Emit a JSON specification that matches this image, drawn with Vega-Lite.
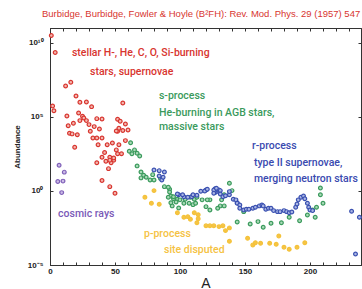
{
  "$schema": "https://vega.github.io/schema/vega-lite/v6.json",
  "width": 311,
  "height": 237,
  "autosize": "none",
  "padding": {"left": 50, "top": 28, "right": 1, "bottom": 24},
  "background": "white",
  "title": {"text": "Burbidge, Burbidge, Fowler & Hoyle (B²FH): Rev. Mod. Phys. 29 (1957) 547", "anchor": "start", "frame": "group", "font": "Liberation Sans", "fontSize": 9.5, "fontWeight": "normal", "color": "#d8352f", "offset": 9, "dx": -8},
  "config": {
    "view": {"stroke": "#333", "strokeWidth": 1},
    "axis": {"grid": false, "domainColor": "#333", "tickColor": "#333", "labelFont": "Liberation Sans", "labelFontSize": 8, "labelFontWeight": "bold", "labelColor": "#222", "titleFont": "Liberation Sans", "titleColor": "#222"}
  },
  "datasets": {
    "pts": [
      {"A":1,"Y":3.1e10,"g":"r"},{"A":4,"Y":2.2e9,"g":"r"},{"A":2,"Y":5.5e5,"g":"r"},{"A":3,"Y":2.6e5,"g":"r"},
      {"A":12,"Y":1.2e7,"g":"r"},{"A":16,"Y":2.2e7,"g":"r"},{"A":20,"Y":2.6e6,"g":"r"},{"A":23,"Y":9.8e5,"g":"r"},
      {"A":28,"Y":1.0e6,"g":"r"},{"A":32,"Y":4.9e5,"g":"r"},{"A":13,"Y":1.15e5,"g":"r"},{"A":22,"Y":1.85e5,"g":"r"},
      {"A":25,"Y":1.1e5,"g":"r"},{"A":26,"Y":8.5e4,"g":"r"},{"A":36,"Y":7.6e4,"g":"r"},{"A":40,"Y":7.2e4,"g":"r"},
      {"A":56,"Y":8.7e5,"g":"r"},{"A":52,"Y":6.9e4,"g":"r"},{"A":14,"Y":2.5e4,"g":"r"},{"A":18,"Y":3.7e4,"g":"r"},
      {"A":23,"Y":5.6e4,"g":"r"},{"A":28,"Y":5.6e4,"g":"r"},{"A":30,"Y":3.0e4,"g":"r"},{"A":34,"Y":2.2e4,"g":"r"},
      {"A":54,"Y":5.1e4,"g":"r"},{"A":58,"Y":3.3e4,"g":"r"},{"A":15,"Y":7.9e3,"g":"r"},{"A":17,"Y":7.1e3,"g":"r"},
      {"A":21,"Y":6.3e3,"g":"r"},{"A":31,"Y":1.07e4,"g":"r"},{"A":38,"Y":1.5e4,"g":"r"},{"A":52,"Y":1.07e4,"g":"r"},
      {"A":56,"Y":1.2e4,"g":"r"},{"A":60,"Y":1.3e4,"g":"r"},{"A":33,"Y":3.8e3,"g":"r"},{"A":36,"Y":3.8e3,"g":"r"},
      {"A":40,"Y":3.8e3,"g":"r"},{"A":58,"Y":2.5e3,"g":"r"},{"A":19,"Y":890,"g":"r"},{"A":37,"Y":1.3e3,"g":"r"},
      {"A":44,"Y":1.3e3,"g":"r"},{"A":48,"Y":1.7e3,"g":"r"},{"A":53,"Y":1.3e3,"g":"r"},{"A":51,"Y":590,"g":"r"},
      {"A":42,"Y":390,"g":"r"},{"A":40,"Y":190,"g":"r"},{"A":46,"Y":190,"g":"r"},{"A":49,"Y":120,"g":"r"},
      {"A":52,"Y":320,"g":"r"},{"A":55,"Y":320,"g":"r"},{"A":43,"Y":100,"g":"r"},{"A":47,"Y":81,"g":"r"},
      {"A":36,"Y":81,"g":"r"},{"A":45,"Y":32,"g":"r"},{"A":40,"Y":5.0,"g":"r"},{"A":46,"Y":1.95,"g":"r"},
      {"A":50,"Y":0.7,"g":"r"},{"A":53,"Y":1.7e4,"g":"r"},{"A":51,"Y":1.1e4,"g":"r"},{"A":49,"Y":170,"g":"r"},
      {"A":46,"Y":120,"g":"r"},
      {"A":62,"Y":1.8e3,"g":"s"},{"A":65,"Y":590,"g":"s"},{"A":61,"Y":480,"g":"s"},{"A":67,"Y":350,"g":"s"},
      {"A":69,"Y":230,"g":"s"},{"A":67,"Y":49,"g":"s"},{"A":70,"Y":19,"g":"s"},{"A":72,"Y":11.5,"g":"s"},
      {"A":70,"Y":7.6,"g":"s"},{"A":74,"Y":8.4,"g":"s"},{"A":77,"Y":5.5,"g":"s"},{"A":80,"Y":5.5,"g":"s"},
      {"A":79,"Y":12.6,"g":"s"},{"A":85,"Y":6.8,"g":"s"},{"A":88,"Y":1.95,"g":"s"},{"A":92,"Y":1.3,"g":"s"},
      {"A":93,"Y":0.46,"g":"s"},{"A":91,"Y":0.38,"g":"s"},{"A":95,"Y":0.30,"g":"s"},{"A":98,"Y":0.275,"g":"s"},
      {"A":97,"Y":0.18,"g":"s"},{"A":100,"Y":0.25,"g":"s"},{"A":104,"Y":0.275,"g":"s"},{"A":108,"Y":0.38,"g":"s"},
      {"A":111,"Y":0.275,"g":"s"},{"A":113,"Y":0.38,"g":"s"},{"A":94,"Y":0.098,"g":"s"},{"A":103,"Y":0.148,"g":"s"},
      {"A":110,"Y":0.119,"g":"s"},{"A":95,"Y":0.41,"g":"s"},{"A":92,"Y":0.86,"g":"s"},{"A":91,"Y":1.78,"g":"s"},
      {"A":93,"Y":0.16,"g":"s"},{"A":99,"Y":0.071,"g":"s"},{"A":107,"Y":0.148,"g":"s"},{"A":112,"Y":0.148,"g":"s"},
      {"A":117,"Y":0.25,"g":"s"},{"A":120,"Y":0.087,"g":"s"},{"A":123,"Y":0.25,"g":"s"},{"A":131,"Y":0.098,"g":"s"},
      {"A":132,"Y":0.25,"g":"s"},{"A":134,"Y":0.56,"g":"s"},{"A":138,"Y":3.3,"g":"s"},{"A":144,"Y":0.0081,"g":"s"},
      {"A":121,"Y":0.25,"g":"s"},{"A":123,"Y":0.052,"g":"s"},{"A":129,"Y":0.068,"g":"s"},{"A":134,"Y":0.098,"g":"s"},
      {"A":140,"Y":1.05,"g":"s"},{"A":149,"Y":0.040,"g":"s"},{"A":154,"Y":0.0059,"g":"s"},{"A":160,"Y":0.0085,"g":"s"},
      {"A":164,"Y":0.0035,"g":"s"},{"A":170,"Y":0.0066,"g":"s"},{"A":178,"Y":0.0072,"g":"s"},{"A":184,"Y":0.0166,"g":"s"},
      {"A":192,"Y":0.0098,"g":"s"},{"A":198,"Y":0.024,"g":"s"},{"A":202,"Y":0.052,"g":"s"},{"A":204,"Y":0.0166,"g":"s"},
      {"A":205,"Y":0.079,"g":"s"},{"A":208,"Y":0.56,"g":"s"},{"A":208,"Y":1.6,"g":"s"},{"A":210,"Y":0.148,"g":"s"},
      {"A":63,"Y":320,"g":"s"},
      {"A":80,"Y":26,"g":"b"},{"A":84,"Y":23.5,"g":"b"},{"A":88,"Y":19,"g":"b"},{"A":84,"Y":10.3,"g":"b"},
      {"A":86,"Y":5.5,"g":"b"},{"A":87,"Y":8.4,"g":"b"},{"A":99,"Y":0.56,"g":"b"},{"A":103,"Y":0.41,"g":"b"},
      {"A":106,"Y":0.38,"g":"b"},{"A":109,"Y":0.41,"g":"b"},{"A":113,"Y":0.51,"g":"b"},{"A":98,"Y":0.63,"g":"b"},
      {"A":102,"Y":0.56,"g":"b"},{"A":110,"Y":0.56,"g":"b"},{"A":116,"Y":0.95,"g":"b"},{"A":120,"Y":1.17,"g":"b"},
      {"A":127,"Y":1.43,"g":"b"},{"A":129,"Y":0.95,"g":"b"},{"A":130,"Y":1.17,"g":"b"},{"A":127,"Y":0.77,"g":"b"},
      {"A":138,"Y":0.56,"g":"b"},{"A":144,"Y":0.16,"g":"b"},{"A":141,"Y":0.275,"g":"b"},{"A":119,"Y":1.0,"g":"b"},
      {"A":121,"Y":1.3,"g":"b"},{"A":126,"Y":1.17,"g":"b"},{"A":128,"Y":1.5,"g":"b"},{"A":131,"Y":1.05,"g":"b"},
      {"A":126,"Y":0.7,"g":"b"},{"A":131,"Y":0.63,"g":"b"},{"A":133,"Y":0.41,"g":"b"},{"A":135,"Y":0.48,"g":"b"},
      {"A":138,"Y":0.9,"g":"b"},{"A":143,"Y":0.25,"g":"b"},{"A":144,"Y":0.148,"g":"b"},{"A":146,"Y":0.114,"g":"b"},
      {"A":146,"Y":0.068,"g":"b"},{"A":149,"Y":0.052,"g":"b"},{"A":151,"Y":0.058,"g":"b"},{"A":153,"Y":0.058,"g":"b"},
      {"A":156,"Y":0.068,"g":"b"},{"A":158,"Y":0.079,"g":"b"},{"A":161,"Y":0.098,"g":"b"},{"A":163,"Y":0.114,"g":"b"},
      {"A":164,"Y":0.098,"g":"b"},{"A":166,"Y":0.058,"g":"b"},{"A":168,"Y":0.068,"g":"b"},{"A":170,"Y":0.068,"g":"b"},
      {"A":172,"Y":0.047,"g":"b"},{"A":175,"Y":0.040,"g":"b"},{"A":177,"Y":0.040,"g":"b"},{"A":180,"Y":0.047,"g":"b"},
      {"A":182,"Y":0.040,"g":"b"},{"A":184,"Y":0.034,"g":"b"},{"A":186,"Y":0.038,"g":"b"},{"A":189,"Y":0.079,"g":"b"},
      {"A":190,"Y":0.13,"g":"b"},{"A":191,"Y":0.25,"g":"b"},{"A":193,"Y":0.38,"g":"b"},{"A":195,"Y":0.46,"g":"b"},
      {"A":196,"Y":0.30,"g":"b"},{"A":198,"Y":0.148,"g":"b"},{"A":199,"Y":0.079,"g":"b"},{"A":200,"Y":0.052,"g":"b"},
      {"A":202,"Y":0.047,"g":"b"},{"A":232,"Y":0.043,"g":"b"},{"A":238,"Y":0.0166,"g":"b"},{"A":235,"Y":5.6e-5,"g":"b"},
      {"A":80,"Y":1.05,"g":"p"},{"A":73,"Y":0.38,"g":"p"},{"A":78,"Y":0.148,"g":"p"},{"A":84,"Y":0.126,"g":"p"},
      {"A":98,"Y":0.034,"g":"p"},{"A":103,"Y":0.0166,"g":"p"},{"A":106,"Y":0.0184,"g":"p"},{"A":108,"Y":0.0123,"g":"p"},
      {"A":111,"Y":0.034,"g":"p"},{"A":114,"Y":0.025,"g":"p"},{"A":114,"Y":0.0135,"g":"p"},{"A":113,"Y":0.0072,"g":"p"},
      {"A":120,"Y":0.0044,"g":"p"},{"A":123,"Y":0.0044,"g":"p"},{"A":126,"Y":0.0044,"g":"p"},{"A":130,"Y":0.0039,"g":"p"},
      {"A":133,"Y":0.0044,"g":"p"},{"A":135,"Y":0.0021,"g":"p"},{"A":138,"Y":0.0032,"g":"p"},{"A":138,"Y":0.0004,"g":"p"},
      {"A":152,"Y":0.00064,"g":"p"},{"A":156,"Y":0.000224,"g":"p"},{"A":158,"Y":0.00032,"g":"p"},{"A":162,"Y":0.000295,"g":"p"},
      {"A":169,"Y":0.000295,"g":"p"},{"A":174,"Y":0.00025,"g":"p"},{"A":176,"Y":0.00091,"g":"p"},{"A":180,"Y":0.000158,"g":"p"},
      {"A":184,"Y":0.000115,"g":"p"},{"A":190,"Y":0.000158,"g":"p"},{"A":196,"Y":0.00032,"g":"p"},
      {"A":7,"Y":55,"g":"c"},{"A":11,"Y":18.6,"g":"c"},{"A":6,"Y":4.3,"g":"c"},{"A":10,"Y":4.6,"g":"c"},{"A":9,"Y":0.77,"g":"c"}
    ],
    "labels": [
      {"A":16.9,"Y":2.1e9,"t":"stellar H-, He, C, O, Si-burning","g":"r"},
      {"A":30.8,"Y":1.08e8,"t":"stars, supernovae","g":"r"},
      {"A":83.8,"Y":2.6e6,"t":"s-process","g":"s"},
      {"A":83.8,"Y":1.85e5,"t":"He-burning in AGB stars,","g":"s"},
      {"A":83.8,"Y":2.1e4,"t":"massive stars","g":"s"},
      {"A":155.4,"Y":1.1e3,"t":"r-process","g":"b"},
      {"A":156.9,"Y":78,"t":"type II supernovae,","g":"b"},
      {"A":156.9,"Y":6.5,"t":"merging neutron stars","g":"b"},
      {"A":6.2,"Y":0.028,"t":"cosmic rays","g":"c"},
      {"A":72.3,"Y":1.26e-3,"t":"p-process","g":"p"},
      {"A":87.7,"Y":1.05e-4,"t":"site disputed","g":"p"}
    ]
  },
  "resolve": {"axis": {"x": "independent", "y": "independent"}},
  "layer": [
    {
      "data": {"name": "pts"},
      "mark": {"type": "point", "shape": "circle", "filled": true, "size": 14, "strokeWidth": 1.2, "opacity": 1},
      "encoding": {
        "x": {"field": "A", "type": "quantitative", "scale": {"domain": [0, 239.23], "nice": false, "zero": false},
          "axis": {"orient": "bottom", "values": [0,10,20,30,40,50,60,70,80,90,100,110,120,130,140,150,160,170,180,190,200,210,220,230], "labelExpr": "datum.value % 50 === 0 ? datum.label : ''", "labelOverlap": false, "labelFlush": false, "tickSize": -3, "labelPadding": 5, "title": "A", "titleFontSize": 14, "titleFontWeight": "normal", "titlePadding": 1}},
        "y": {"field": "Y", "type": "quantitative", "scale": {"type": "log", "domain": [1e-5, 1e11], "nice": false},
          "axis": {"orient": "left", "values": [1e-5, 1, 1e5, 1e10], "labelExpr": "datum.value > 1e9 ? '10¹⁰' : datum.value > 1e4 ? '10⁵' : datum.value > 0.5 ? '10⁰' : '10⁻⁵'", "labelOverlap": false, "labelFlush": false, "tickSize": -3, "labelPadding": 10, "title": "Abundance", "titleFontSize": 8, "titleFontWeight": "bold", "titlePadding": 6}},
        "fill": {"field": "g", "type": "nominal", "legend": null, "scale": {"domain": ["r","s","b","p","c"], "range": ["#f3b6ae","#a9d9b7","#aab6e4","#f6c445","#cbbbe6"]}},
        "stroke": {"field": "g", "type": "nominal", "legend": null, "scale": {"domain": ["r","s","b","p","c"], "range": ["#d8352f","#3a9a5c","#3a50b0","#f4c23a","#7f60b8"]}}
      }
    },
    {
      "data": {"name": "labels"},
      "mark": {"type": "text", "align": "left", "baseline": "middle", "font": "Roboto", "fontSize": 10.5, "fontWeight": 500},
      "encoding": {
        "x": {"field": "A", "type": "quantitative", "axis": {"orient": "top", "values": [0,10,20,30,40,50,60,70,80,90,100,110,120,130,140,150,160,170,180,190,200,210,220,230], "labels": false, "tickSize": -3, "title": null}},
        "y": {"field": "Y", "type": "quantitative", "axis": {"orient": "right", "values": [1e-5, 1, 1e5, 1e10], "labels": false, "tickSize": -3, "title": null}},
        "text": {"field": "t"},
        "color": {"field": "g", "type": "nominal", "legend": null, "scale": {"domain": ["r","s","b","p","c"], "range": ["#d8352f","#3a9a5c","#3a4ab0","#f5c242","#7a5ab8"]}}
      }
    }
  ]
}
